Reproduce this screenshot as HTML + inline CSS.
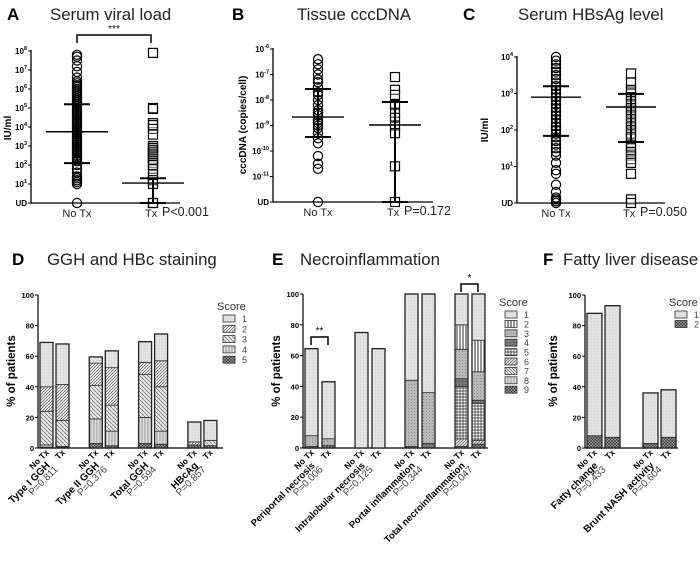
<!DOCTYPE html>
<html><head><meta charset="utf-8">
<style>
html,body{margin:0;padding:0;background:#fff;}
svg{display:block;font-family:"Liberation Sans",Arial,sans-serif;}
</style></head>
<body>
<svg id="chart" width="700" height="564" viewBox="0 0 700 564" xmlns="http://www.w3.org/2000/svg">
<defs>
  <pattern id="s1" width="3" height="3" patternUnits="userSpaceOnUse"><rect width="3" height="3" fill="#e2e2e2"/><rect width="1" height="1" fill="#cfcfcf"/></pattern>
  <pattern id="d2" width="3" height="3" patternUnits="userSpaceOnUse"><rect width="3" height="3" fill="#f2f2f2"/><path d="M0,3 L3,0" stroke="#555" stroke-width="0.7"/></pattern>
  <pattern id="d3" width="4" height="4" patternUnits="userSpaceOnUse"><rect width="4" height="4" fill="#e8e8e8"/><path d="M0,0 L4,4" stroke="#666" stroke-width="0.7"/></pattern>
  <pattern id="d4" width="3" height="3" patternUnits="userSpaceOnUse"><rect width="3" height="3" fill="#ddd"/><path d="M1,0 L1,3" stroke="#888" stroke-width="0.8"/></pattern>
  <pattern id="x9" width="3" height="3" patternUnits="userSpaceOnUse"><rect width="3" height="3" fill="#999"/><path d="M0,0 L3,3 M0,3 L3,0" stroke="#333" stroke-width="0.6"/></pattern>
  <pattern id="e2" width="3" height="3" patternUnits="userSpaceOnUse"><rect width="3" height="3" fill="#fff"/><path d="M1,0 L1,3" stroke="#111" stroke-width="0.9"/></pattern>
  <pattern id="e3" width="3" height="3" patternUnits="userSpaceOnUse"><rect width="3" height="3" fill="#b8b8b8"/><rect width="1" height="1" fill="#888"/></pattern>
  <pattern id="e4" width="3" height="3" patternUnits="userSpaceOnUse"><rect width="3" height="3" fill="#777"/><rect width="1" height="1" fill="#444"/></pattern>
  <pattern id="e5" width="3" height="3" patternUnits="userSpaceOnUse"><rect width="3" height="3" fill="#fff"/><path d="M1,0 L1,3 M0,1 L3,1" stroke="#222" stroke-width="0.7"/></pattern>
  <pattern id="e6" width="3" height="3" patternUnits="userSpaceOnUse"><rect width="3" height="3" fill="#ddd"/><path d="M0,3 L3,0" stroke="#666" stroke-width="0.7"/></pattern>
  <pattern id="e7" width="3" height="3" patternUnits="userSpaceOnUse"><rect width="3" height="3" fill="#eee"/><path d="M0,0 L3,3" stroke="#555" stroke-width="0.7"/></pattern>
</defs>
</svg>
<script>
// ---------- scatter data (log10 values; UD plotted at the bottom) ----------
const aTicks = ['UD','1','2','3','4','5','6','7','8'];
const aNoTx = [7.8,7.7,7.5,7.2,6.9,6.6,6.4,6.3,6.2,6.1,6.0,5.9,5.8,5.7,5.6,5.5,5.4,5.3,5.2,5.1,5.0,4.9,4.8,4.7,4.6,4.5,4.4,4.3,4.2,4.1,4.0,3.9,3.8,3.7,3.6,3.5,3.4,3.3,3.2,3.1,3.0,2.9,2.8,2.7,2.6,2.5,2.4,2.3,2.2,2.0,1.8,1.6,1.4,1.3,1.2,1.1,1.0,0];
const aTx = [7.9,5.0,4.95,4.2,4.1,3.9,3.6,3.0,2.9,2.8,2.7,2.6,2.5,2.4,2.3,2.2,2.1,2.0,1.8,1.5,1.2,1.0,0,0];
const aStats = [[3.75,5.2,2.1],[1.05,1.3,0]]; // mean, upper, lower
const bTicks = ['UD','-11','-10','-9','-8','-7','-6'];
const bNoTx = [-6.4,-6.6,-6.8,-7.0,-7.2,-7.3,-7.5,-7.7,-7.8,-8.0,-8.2,-8.4,-8.5,-8.6,-8.8,-8.9,-9.0,-9.1,-9.3,-9.5,-9.7,-10.2,-10.5,-10.7,-12];
const bTx = [-7.1,-7.6,-7.8,-8.2,-8.5,-8.7,-9.0,-9.3,-10.6,-12];
const bStats = [[-8.67,-7.57,-9.45],[-8.98,-8.08,-12]];
const cTicks = ['UD','1','2','3','4'];
const cNoTx = [4.0,3.9,3.8,3.7,3.6,3.5,3.4,3.3,3.2,3.1,3.0,2.9,2.8,2.7,2.6,2.5,2.4,2.3,2.2,2.1,2.0,1.9,1.8,1.7,1.6,1.5,1.4,1.3,1.1,0.9,0.8,0.5,0.3,0.15,0.1,0.05,0];
const cTx = [3.55,3.3,3.1,3.0,2.9,2.8,2.7,2.6,2.5,2.4,2.3,2.2,2.1,2.0,1.9,1.8,1.6,1.5,1.4,1.3,1.2,1.1,0.8,0.1,0];
const cStats = [[2.9,3.2,1.84],[2.63,2.99,1.67]];

// ---------- stacked bar data (% patients by score 1..n) ----------
const pctTicks = [0,20,40,60,80,100];
const dCategories = ['Type I GGH','Type II GGH','Total GGH','HBcAg'];
const dPvalues = ['P=0.811','P=0.376','P=0.594','P=0.857'];
const dNoTx = [[29,16,22,1.5,0.5],[4,14.5,22,16,3],[13.5,8,28,17,3],[13,2,0,0,2]];
const dTx = [[26.5,23.5,17,0.5,0.5],[11,24.5,17,9.5,1.5],[17.5,17,29,8.5,2.5],[13,0,3.5,0,1.5]];
const eCategories = ['Periportal necrosis','Intralobular necrosis','Portal inflammation','Total necroinflammation'];
const ePvalues = ['P=0.006','P=0.125','P=0.344','P=0.047'];
const eNoTx = [[56.5,0,7,0,0,0,0,0,1],[75,0,0,0,0,0,0,0,0],[56,0,43,1,0,0,0,0,0],[20,16,19,5,34,5,0,0,1]];
const eTx = [[37,0,4.5,0,0,0,0,0,1.5],[64.5,0,0,0,0,0,0,0,0],[64,0,33,3,0,0,0,0,0],[30,20.5,18.5,2,24,2.5,0,0,2.5]];
const fCategories = ['Fatty change','Brunt NASH activity'];
const fPvalues = ['P=0.433','P=0.604'];
const fNoTx = [[80,8],[33,3]];
const fTx = [[86,7],[31,7]];

const NS='http://www.w3.org/2000/svg';
const svg=document.getElementById('chart');
function mk(tag,attrs,parent){const e=document.createElementNS(NS,tag);for(const k in attrs)e.setAttribute(k,attrs[k]);(parent||svg).appendChild(e);return e;}
function txt(x,y,s,attrs,parent){const t=mk('text',Object.assign({x:x,y:y},attrs||{}),parent);t.textContent=s;return t;}

// titles
function title(lx,tx,y,letter,s,key){
  const a=txt(lx,y,letter,{'font-size':17,'font-weight':'bold'});
  
  
  const b=txt(tx,y,s,{'font-size':16.8,fill:'#222'});
  
  
}
title(7,50,20,'A','Serum viral load','a');
title(232,297,20,'B','Tissue cccDNA','b');
title(463,518,20,'C','Serum HBsAg level','c');
title(12,47,265,'D','GGH and HBc staining','d');
title(272,300,265,'E','Necroinflammation','e');
title(543,563,265,'F','Fatty liver disease','f');

function ylabel(x,y,s,size,key){
  const t=txt(x,y,s,{'font-size':size,'font-weight':'bold','text-anchor':'middle',transform:'rotate(-90 '+x+' '+y+')'});
  
  
}

// ---------- scatter panels ----------
function scatter(cfg){
  const g=mk('g',{});
  
  
  const Y=v=>cfg.yUD-(v-cfg.vmin)*cfg.dec;
  mk('line',{x1:cfg.ax,y1:cfg.yUD,x2:cfg.ax,y2:Y(cfg.vmin+cfg.ticks.length-1)-1,stroke:'#000','stroke-width':1.3},g);
  mk('line',{x1:cfg.ax,y1:cfg.yUD,x2:cfg.axEnd,y2:cfg.yUD,stroke:'#000','stroke-width':1.3},g);
  cfg.ticks.forEach((t,i)=>{
    const y=Y(cfg.vmin+i);
    mk('line',{x1:cfg.ax-3,y1:y,x2:cfg.ax,y2:y,stroke:'#000','stroke-width':1},g);
    let tt;
    if(t==='UD'){tt=txt(cfg.ax-4,y+3,'UD',{'font-size':8,'font-weight':'bold','text-anchor':'end'},g);}
    else{
      tt=txt(cfg.ax-4,y+3,'',{'font-size':8,'font-weight':'bold','text-anchor':'end'},g);
      const a=mk('tspan',{},tt);a.textContent='10';
      const b=mk('tspan',{dy:-4,'font-size':5.5},a.parentNode);b.textContent=t;
    }
    
    
  });
  [[cfg.noTx,cfg.x1,'circle'],[cfg.tx,cfg.x2,'square']].forEach(([arr,x,shape])=>{
    arr.forEach(v=>{
      const y=Y(v);let p;
      if(shape==='circle')p=mk('circle',{cx:x,cy:y,r:4.6,fill:'none',stroke:'#000','stroke-width':1.2},g);
      else p=mk('rect',{x:x-4.5,y:y-4.5,width:9,height:9,fill:'#fff','fill-opacity':0.3,stroke:'#000','stroke-width':1.2},g);
      
      
    });
  });
  [[cfg.stats[0],cfg.x1],[cfg.stats[1],cfg.x2]].forEach(([s,x])=>{
    const m=mk('line',{x1:x-cfg.mw,y1:Y(s[0]),x2:x+cfg.mw,y2:Y(s[0]),stroke:'#000','stroke-width':1.4},g);
    
    
    const v=mk('line',{x1:x,y1:Y(s[1]),x2:x,y2:Y(s[2]),stroke:'#000','stroke-width':2},g);
    
    
    [s[1],s[2]].forEach(q=>{mk('line',{x1:x-cfg.sw,y1:Y(q),x2:x+cfg.sw,y2:Y(q),stroke:'#000','stroke-width':2},g);});
  });
  const l1=txt(cfg.x1,cfg.yUD+14,'No Tx',{'font-size':11,'text-anchor':'middle',fill:'#222'},g);
  
  
  const l2=txt(cfg.x2-8,cfg.yUD+14,'Tx',{'font-size':11,fill:'#222'},g);
  
  
  const pv=txt(cfg.x2+9,cfg.yUD+13,cfg.p,{'font-size':12.5,fill:'#222'},g);
  
  
}
scatter({key:'a',ax:31,axEnd:180,yUD:203,dec:19,vmin:0,ticks:aTicks,noTx:aNoTx,tx:aTx,stats:aStats,x1:77,x2:153,mw:31,sw:13,p:'P<0.001'});
scatter({key:'b',ax:273,axEnd:433,yUD:202,dec:25.5,vmin:-12,ticks:bTicks,noTx:bNoTx,tx:bTx,stats:bStats,x1:318,x2:395,mw:26,sw:13,p:'P=0.172'});
scatter({key:'c',ax:517,axEnd:665,yUD:203,dec:36.5,vmin:0,ticks:cTicks,noTx:cNoTx,tx:cTx,stats:cStats,x1:556,x2:631,mw:25,sw:13,p:'P=0.050'});
ylabel(11,128,'IU/ml',10,'a');
ylabel(246,125,'cccDNA (copies/cell)',10,'b');
ylabel(488,130,'IU/ml',10,'c');
// bracket A
const brA=mk('path',{d:'M77,43 L77,35 L151,35 L151,43',fill:'none',stroke:'#000','stroke-width':1.5});


const stA=txt(114,32,'***',{'font-size':10,'text-anchor':'middle'});



// ---------- stacked bar panels ----------
function bars(cfg){
  const g=mk('g',{});
  
  
  const Y=v=>cfg.y0-v*cfg.k;
  mk('line',{x1:cfg.ax,y1:cfg.y0,x2:cfg.ax,y2:Y(100),stroke:'#000','stroke-width':1.2},g);
  mk('line',{x1:cfg.ax,y1:cfg.y0,x2:cfg.axEnd,y2:cfg.y0,stroke:'#000','stroke-width':1.2},g);
  pctTicks.forEach(t=>{
    mk('line',{x1:cfg.ax-3,y1:Y(t),x2:cfg.ax,y2:Y(t),stroke:'#000'},g);
    const l=txt(cfg.ax-4,Y(t)+3,String(t),{'font-size':7.5,'font-weight':'bold','text-anchor':'end'},g);
    
    
  });
  cfg.cats.forEach((c,i)=>{
    [cfg.noTx[i],cfg.tx[i]].forEach((segs,b)=>{
      const x=cfg.x0+i*cfg.gs+b*cfg.pitch;
      let acc=0;
      for(let s=segs.length-1;s>=0;s--){
        if(segs[s]<=0)continue;
        const r=mk('rect',{x:x,y:Y(acc+segs[s]),width:cfg.w,height:segs[s]*cfg.k,fill:'url(#'+cfg.fills[s]+')',stroke:'#333','stroke-width':0.8},g);
        
        
        acc+=segs[s];
      }
      const o=mk('rect',{x:x,y:Y(acc),width:cfg.w,height:acc*cfg.k,fill:'none',stroke:'#222','stroke-width':1.3},g);
      
      
      const cx=x+cfg.w/2+3, cy=cfg.y0+5;
      const t=txt(cx,cy,b===0?'No Tx':'Tx',{'font-size':8.5,'font-weight':'bold','text-anchor':'end',transform:'rotate(-45 '+cx+' '+cy+')'},g);
      
      
    });
    const nx=cfg.x0+i*cfg.gs+cfg.w/2+4, ny=466;
    const ct=txt(nx,ny,c,{'font-size':cfg.cs,'font-weight':'bold','text-anchor':'end',transform:'rotate(-45 '+nx+' '+ny+')'},g);
    
    
    const px=nx+8, py=ny+4;
    const pt=txt(px,py,cfg.ps[i],{'font-size':10,fill:'#444','text-anchor':'end',transform:'rotate(-45 '+px+' '+py+')'},g);
    
    
  });
  // legend
  const lt=txt(cfg.lx-6,cfg.ly-9,'Score',{'font-size':11,fill:'#333'},g);
  
  
  cfg.fills.forEach((f,i)=>{
    const y=cfg.ly+i*cfg.ls;
    const r=mk('rect',{x:cfg.lx,y:y-4,width:12,height:7,fill:'url(#'+f+')',stroke:'#333','stroke-width':0.8},g);
    
    
    const l=txt(cfg.lx+19,y+3,String(i+1),{'font-size':9,fill:'#444'},g);
    
    
  });
}
bars({key:'d',ax:38,axEnd:223,y0:448,k:1.53,x0:40,gs:49.3,pitch:16,w:13,cats:dCategories,ps:dPvalues,noTx:dNoTx,tx:dTx,fills:['s1','d2','d3','d4','x9'],cs:10,lx:223,ly:319,ls:10.3});
bars({key:'e',ax:303,axEnd:488,y0:448,k:1.54,x0:305,gs:50,pitch:17,w:13,cats:eCategories,ps:ePvalues,noTx:eNoTx,tx:eTx,fills:['s1','e2','e3','e4','e5','e6','e7','d4','x9'],cs:9.5,lx:505,ly:315,ls:9.4});
bars({key:'f',ax:585,axEnd:678,y0:448,k:1.53,x0:587,gs:56,pitch:18,w:15,cats:fCategories,ps:fPvalues,noTx:fNoTx,tx:fTx,fills:['s1','x9'],cs:10,lx:675,ly:315,ls:9.5});
ylabel(15,371,'% of patients',11.5,'d');
ylabel(280,371,'% of patients',11.5,'e');
ylabel(557,371,'% of patients',11.5,'f');
// brackets E
const br1=mk('path',{d:'M311,345 L311,337 L328,337 L328,345',fill:'none',stroke:'#000','stroke-width':1.5});


const s1=txt(319.5,334,'**',{'font-size':10,'text-anchor':'middle'});


const br2=mk('path',{d:'M461,292 L461,284 L478,284 L478,292',fill:'none',stroke:'#000','stroke-width':1.5});


const s2=txt(469.5,281,'*',{'font-size':10,'text-anchor':'middle'});


</script>
</body></html>
